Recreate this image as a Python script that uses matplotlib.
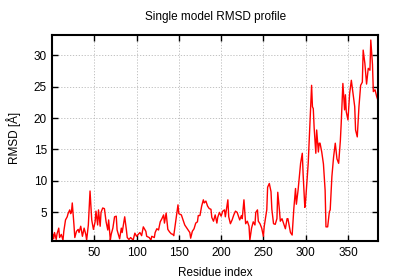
import matplotlib
matplotlib.use("Agg")
import matplotlib.pyplot as plt

residue = [1, 2, 3, 5, 6, 8, 9, 11, 13, 14, 16, 18, 19, 21, 22, 23, 24, 26, 27, 29,
           31, 32, 34, 36, 38, 40, 41, 43, 45, 46, 47, 49, 51, 52, 54, 55, 57, 58, 60, 62,
           64, 66, 67, 69, 70, 72, 74, 76, 77, 80, 82, 83, 86, 88, 89, 91, 93, 96, 98, 100,
           102, 104, 106, 108, 111, 112, 115, 117, 118, 121, 122, 124, 126, 128, 130, 132, 133, 135, 137, 139,
           141, 143, 144, 147, 149, 150, 153, 155, 157, 159, 161, 163, 164, 166, 168, 170, 172, 173, 175, 177,
           179, 180, 182, 184, 186, 188, 189, 191, 193, 195, 196, 198, 200, 202, 204, 205, 208, 209, 211, 213,
           215, 217, 219, 220, 222, 224, 225, 227, 229, 231, 233, 234, 236, 238, 240, 241, 243, 244, 246, 248,
           250, 251, 254, 255, 257, 259, 260, 262, 264, 266, 267, 269, 270, 272, 274, 276, 278, 279, 282, 284,
           286, 288, 289, 291, 294, 296, 297, 299, 300, 303, 305, 307, 308, 309, 310, 312, 313, 315, 316, 317,
           319, 321, 323, 324, 326, 328, 329, 331, 333, 335, 337, 339, 341, 342, 344, 346, 347, 348, 350, 352,
           354, 356, 358, 359, 361, 363, 365, 367, 368, 370, 372, 374, 376, 377, 379, 380, 382, 384, 385]
rmsd = [1.5, 0.8, 1.8, 0.7, 1.6, 2.5, 1.0, 1.5, 0.6, 2.0, 3.8, 4.3, 4.8, 5.4, 4.8, 5.0, 6.5, 3.0, 1.0, 2.0,
        2.3, 1.8, 2.8, 1.2, 2.5, 1.5, 0.6, 3.0, 8.4, 6.0, 3.8, 2.3, 3.5, 5.2, 3.0, 5.4, 2.8, 5.0, 5.7, 5.6,
        3.5, 2.2, 3.8, 0.6, 1.5, 2.5, 4.3, 4.4, 2.2, 0.8, 2.5, 1.8, 4.3, 2.2, 1.0, 0.7, 1.0, 0.6, 1.7, 1.2,
        1.5, 1.8, 1.3, 2.7, 2.0, 1.2, 1.0, 0.6, 1.2, 1.0, 1.8, 2.4, 2.2, 3.5, 4.0, 4.6, 3.3, 4.9, 2.3, 1.9,
        1.6, 1.5, 1.3, 4.3, 6.2, 4.8, 4.6, 3.8, 3.0, 2.6, 2.2, 1.8, 0.9, 2.0, 2.4, 3.3, 3.5, 4.5, 4.5, 6.0,
        7.0, 6.5, 6.8, 6.0, 5.6, 5.5, 4.2, 3.6, 4.6, 3.3, 4.2, 5.0, 4.4, 5.2, 5.4, 4.3, 7.0, 4.3, 3.2, 3.8,
        4.6, 5.2, 5.0, 4.6, 3.8, 4.5, 4.0, 7.0, 3.2, 3.6, 2.8, 0.6, 2.5, 3.5, 3.0, 5.0, 5.4, 3.6, 3.2, 2.5,
        1.2, 2.8, 5.4, 9.0, 9.6, 8.3, 5.5, 3.2, 3.1, 4.0, 8.2, 5.3, 3.6, 4.0, 3.2, 2.4, 4.0, 4.0, 1.8, 1.4,
        5.6, 8.8, 6.3, 8.5, 12.8, 14.4, 11.0, 5.8, 7.0, 12.8, 19.1, 25.2, 21.8, 21.5, 18.5, 14.4, 18.1, 14.6, 16.0, 16.0,
        14.6, 12.7, 8.5, 2.7, 2.7, 5.1, 5.4, 10.7, 13.8, 16.0, 13.5, 12.8, 16.4, 19.1, 25.5, 21.3, 23.7, 21.0, 19.7, 23.9,
        26.0, 23.9, 21.8, 18.1, 17.0, 21.8, 25.2, 25.7, 30.8, 28.7, 25.4, 27.9, 27.6, 32.4, 28.5, 24.2, 24.5, 23.4, 23.0]

xticks = [50, 100, 150, 200, 250, 300, 350]
yticks = [5, 10, 15, 20, 25, 30]

plt.rcParams['font.family'] = ['Liberation Sans', 'DejaVu Sans']
fig = plt.figure(figsize=(4.0, 2.8), dpi=100)
ax = fig.add_axes([0.131, 0.139, 0.815, 0.736])
ax.plot(residue, rmsd, color='#ff0000', linewidth=1.0)
ax.set_xlim(0.5, 386)
ax.set_ylim(0.44, 33.2)
ax.set_xticks(xticks)
ax.set_yticks(yticks)
ax.tick_params(direction='in', top=True, right=True, length=4, width=1.0, labelsize=8.5, pad=4)
ax.grid(True, color='#b8b8b8', linestyle=(0, (1.5, 2)), linewidth=0.6)
for s in ax.spines.values():
    s.set_linewidth(1.5)
ax.set_title('Single model RMSD profile', fontsize=8.5, pad=11)
ax.set_xlabel('Residue index', fontsize=8.5, labelpad=6)
ax.set_ylabel('RMSD [Å]', fontsize=8.5, labelpad=9)
fig.savefig('out.png', dpi=100)
